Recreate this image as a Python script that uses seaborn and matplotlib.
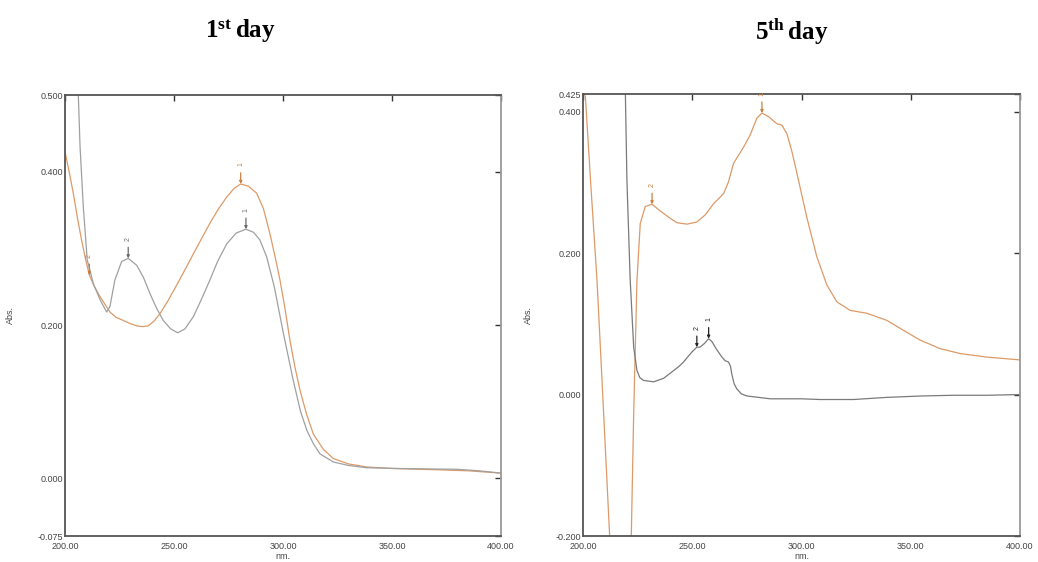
import matplotlib
matplotlib.use("Agg")
import matplotlib.pyplot as plt
import seaborn as sns
import pandas as pd

# ---------------- data ----------------
# Day 1
d1_gray_wl = [202, 204, 206.1, 206.9, 208.4, 210.2, 213, 216.1, 219.1, 220.6, 222.9, 226, 229, 232.9,
              236, 239, 242, 245.1, 248.5, 251.7, 255, 258.9, 262.5, 266.5, 270, 274.2, 278.5, 283,
              286.5, 289.4, 292.5, 296, 300.2, 304.7, 308, 310.9, 314, 317, 323.1, 330, 338.4, 353.7,
              365, 379.7, 390, 400]
d1_gray_abs = [0.80, 0.62, 0.50, 0.433, 0.354, 0.285, 0.254, 0.233, 0.217, 0.224, 0.259, 0.283, 0.287, 0.278,
               0.262, 0.241, 0.222, 0.206, 0.195, 0.190, 0.195, 0.211, 0.233, 0.259, 0.283, 0.306, 0.320, 0.325,
               0.321, 0.311, 0.289, 0.250, 0.189, 0.128, 0.088, 0.063, 0.045, 0.032, 0.0215, 0.017, 0.014, 0.013,
               0.0125, 0.012, 0.010, 0.007]
d1_orange_wl = [200, 201.9, 203.8, 205.7, 207.6, 209.5, 211.2, 213.5, 216.1, 220.6, 223.5, 226.8, 229.9,
                232.9, 235.5, 238.2, 240.8, 243.6, 247.3, 251.2, 255, 258.9, 262.7, 266.5, 270.3, 274.2,
                277.5, 280.6, 284.2, 287.9, 291, 294, 296.3, 298.6, 301, 303.2, 305.5, 307.8, 310.8, 313.9,
                318.5, 323.1, 330, 338.4, 350, 369, 385, 400]
d1_orange_abs = [0.426, 0.40, 0.372, 0.340, 0.311, 0.285, 0.265, 0.250, 0.237, 0.217, 0.210, 0.206, 0.202,
                 0.199, 0.198, 0.199, 0.205, 0.215, 0.232, 0.252, 0.272, 0.293, 0.313, 0.333, 0.351, 0.367,
                 0.378, 0.384, 0.381, 0.372, 0.352, 0.319, 0.290, 0.259, 0.220, 0.180, 0.145, 0.115, 0.084, 0.058,
                 0.038, 0.026, 0.019, 0.015, 0.013, 0.0115, 0.010, 0.007]

# Day 5
d5_orange_wl = [200, 201.1, 203.5, 206.4, 208.3, 210.2, 212.2, 217, 222.1, 223.2, 224.7, 226.2, 228.5,
                231.6, 234, 236.9, 240, 243, 247.6, 252.1, 255.9, 259.8, 264.3, 266.5, 268.9, 273.5, 276.5,
                279.6, 281.9, 284.9, 288.7, 291, 293.3, 295.5, 297.9, 302.4, 307, 311.6, 316.2, 322.3,
                329.9, 339, 346.6, 354.3, 363.4, 372.6, 384.8, 400]
d5_orange_abs = [0.430, 0.421, 0.30, 0.162, 0.045, -0.074, -0.20, -0.50, -0.20, -0.027, 0.162, 0.242, 0.266,
                 0.269, 0.263, 0.256, 0.249, 0.243, 0.241, 0.244, 0.254, 0.270, 0.284, 0.300, 0.327, 0.350, 0.367,
                 0.391, 0.398, 0.393, 0.383, 0.381, 0.369, 0.345, 0.313, 0.251, 0.195, 0.155, 0.131, 0.119,
                 0.115, 0.105, 0.091, 0.077, 0.065, 0.058, 0.053, 0.049]
d5_gray_wl = [217.5, 218.6, 219.4, 220.1, 221.6, 223.2, 224.7, 226, 227.7, 232.3, 236.9, 241.5, 244, 246,
              247.6, 249.8, 252.1, 253.5, 255.5, 257.5, 259, 260.5, 262, 263.6, 265, 266.6, 267.5, 268.1,
              269.2, 270.4, 272.5, 275, 285.7, 300, 308.5, 323.8, 339, 355, 369.5, 385, 400]
d5_gray_abs = [0.80, 0.55, 0.425, 0.303, 0.162, 0.067, 0.034, 0.024, 0.020, 0.018, 0.023, 0.034, 0.040, 0.046,
               0.052, 0.060, 0.067, 0.067, 0.072, 0.079, 0.075, 0.067, 0.060, 0.053, 0.048, 0.046, 0.040, 0.029,
               0.015, 0.008, 0.001, -0.002, -0.006, -0.006, -0.007, -0.007, -0.004, -0.002, -0.001, -0.001, 0.0]

# peak picks: (wavelength, absorbance, label)
d1_orange_peaks = [(280.6, 0.384, "1"), (211.2, 0.265, "2")]
d1_gray_peaks = [(283.0, 0.325, "1"), (229.0, 0.287, "2")]
d5_orange_peaks = [(281.9, 0.398, "1"), (231.6, 0.269, "2")]
d5_gray_peaks = [(257.5, 0.079, "1"), (252.1, 0.067, "2")]

x_ticks = [200, 250, 300, 350, 400]
d1_y_ticks = [-0.075, 0.0, 0.2, 0.4, 0.5]
d5_y_ticks = [-0.2, 0.0, 0.2, 0.4, 0.425]

# ---------------- style ----------------
sns.set_theme(style="white")
plt.rcParams["font.family"] = ["Liberation Sans", "DejaVu Sans"]
plt.rcParams["mathtext.fontset"] = "custom"
plt.rcParams["mathtext.rm"] = "Liberation Serif"
plt.rcParams["mathtext.bf"] = "Liberation Serif:bold"

ORANGE = "#dc9a68"
ORANGE_MK = "#c97f3e"
GRAY1 = "#a0a0a0"
GRAY1_MK = "#6a6a6a"
GRAY5 = "#7a7a7a"
GRAY5_MK = "#222222"
TXT = "#444444"

fig = plt.figure(figsize=(10.38, 5.62), dpi=100)
ax1 = fig.add_axes([65 / 1038, 26 / 562, 436 / 1038, 441 / 562])
ax2 = fig.add_axes([583 / 1038, 26 / 562, 437 / 1038, 442 / 562])


def draw_series(ax, wl, ab, color):
    df = pd.DataFrame({"wl": wl, "abs": ab})
    sns.lineplot(data=df, x="wl", y="abs", ax=ax, color=color, lw=0.9,
                 sort=False, estimator=None)


def peaks(ax, pk, color):
    for x, y, lab in pk:
        ax.annotate("", xy=(x, y), xytext=(0, 8), textcoords="offset points",
                    arrowprops=dict(arrowstyle="-|>", color=color, lw=0.9,
                                    mutation_scale=4, shrinkA=0, shrinkB=0),
                    annotation_clip=False)
        ax.annotate(lab, xy=(x, y), xytext=(0, 14), textcoords="offset points",
                    rotation=90, ha="center", va="center", fontsize=5,
                    color=color, annotation_clip=False)


def style_axes(ax, yticks, ylim):
    ax.set_xlim(200, 400)
    ax.set_ylim(*ylim)
    ax.set_xticks(x_ticks)
    ax.set_xticklabels([f"{v:.2f}" for v in x_ticks])
    ax.set_yticks(yticks)
    ax.set_yticklabels([f"{v:.3f}" for v in yticks])
    ax.tick_params(axis="both", direction="in", length=4, width=1.0,
                   top=True, right=True, labelsize=6.5, labelcolor=TXT,
                   color="#333333")
    ax.tick_params(axis="y", pad=1.5)
    ax.tick_params(axis="x", pad=4)
    ax.set_xlabel("nm.", fontsize=6.5, color=TXT, labelpad=1)
    ax.set_ylabel("Abs.", fontsize=6.5, color=TXT)
    ax.yaxis.set_label_coords(-0.115, 0.5)
    for s in ["left", "bottom", "top"]:
        ax.spines[s].set_color("#555555")
        ax.spines[s].set_linewidth(1.3)
    ax.spines["right"].set_color("#9a9a9a")
    ax.spines["right"].set_linewidth(1.3)
    ax.grid(False)


# Day 1
draw_series(ax1, d1_orange_wl, d1_orange_abs, ORANGE)
draw_series(ax1, d1_gray_wl, d1_gray_abs, GRAY1)
peaks(ax1, d1_orange_peaks, ORANGE_MK)
peaks(ax1, d1_gray_peaks, GRAY1_MK)
style_axes(ax1, d1_y_ticks, (-0.075, 0.5))

# Day 5
draw_series(ax2, d5_orange_wl, d5_orange_abs, ORANGE)
draw_series(ax2, d5_gray_wl, d5_gray_abs, GRAY5)
peaks(ax2, d5_orange_peaks, ORANGE_MK)
peaks(ax2, d5_gray_peaks, GRAY5_MK)
style_axes(ax2, d5_y_ticks, (-0.2, 0.425))

fig.text(240 / 1038, 1 - 31 / 562, r"$\mathbf{1^{st}\,day}$", ha="center", va="center",
         fontsize=18, color="black")
fig.text(792 / 1038, 1 - 31 / 562, r"$\mathbf{5^{th}\,day}$", ha="center", va="center",
         fontsize=18, color="black")

fig.savefig("out.png", dpi=100, facecolor="white")
